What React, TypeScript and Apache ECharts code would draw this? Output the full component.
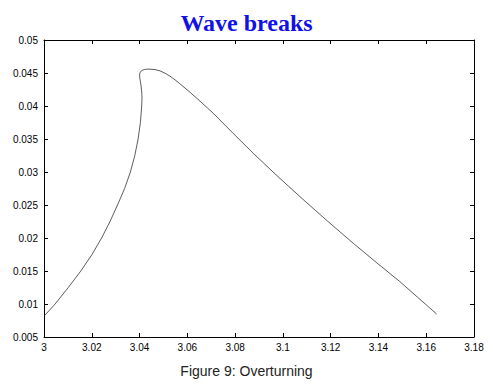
import React, { useEffect, useRef } from "react";
import * as echarts from "echarts";

const titleText = "Wave breaks";
const captionText = "Figure 9: Overturning";

const waveX = [
  3.00013, 3.00465, 3.01017, 3.0154, 3.02009, 3.02411, 3.02763, 3.03077,
  3.03374, 3.03617, 3.03801, 3.03939, 3.04035, 3.0409, 3.04102, 3.04094,
  3.04065, 3.04035, 3.0401, 3.04002, 3.04014, 3.04048, 3.04115, 3.04219,
  3.04395, 3.04646, 3.04856, 3.05065, 3.05274, 3.05484, 3.05693, 3.06112,
  3.0653, 3.07087, 3.07911, 3.08761, 3.09712, 3.10716, 3.11805, 3.12947,
  3.13939, 3.14902, 3.15655, 3.16438,
];
const waveY = [
  0.0082, 0.01, 0.0125, 0.015, 0.0175, 0.02, 0.0225, 0.025, 0.0275, 0.03,
  0.0325, 0.035, 0.0375, 0.04, 0.04117, 0.04197, 0.04303, 0.04371, 0.0442,
  0.0447, 0.045, 0.04523, 0.04541, 0.04555, 0.04559, 0.04552, 0.04532,
  0.04497, 0.04452, 0.04397, 0.04336, 0.04208, 0.04074, 0.03889, 0.03588,
  0.03283, 0.02958, 0.02626, 0.02276, 0.0192, 0.01621, 0.01338, 0.01097,
  0.00848,
];

const xMin = 3;
const xMax = 3.18;
const xStep = 0.02;
const yMin = 0.005;
const yMax = 0.05;
const yStep = 0.005;

export default function App() {
  const ref = useRef<HTMLDivElement>(null);
  useEffect(() => {
    if (!ref.current) return;
    const chart = echarts.init(ref.current, null, { renderer: "svg" });
    const data = waveX.map((x, i) => [x, waveY[i]]);
    const labelFont = {
      fontFamily: "Liberation Sans, Arial, sans-serif",
      fontSize: 10,
      color: "#000",
    };
    const fmt = (d: number) => (v: number) => String(parseFloat(v.toFixed(d)));
    const line = { show: true, lineStyle: { color: "#000", width: 1 } };
    const tick = { show: true, inside: true, length: 4, lineStyle: { color: "#000", width: 1 } };
    chart.setOption({
      animation: false,
      backgroundColor: "#fff",
      title: [
        {
          text: titleText,
          left: "center",
          top: 6,
          textStyle: {
            fontFamily: "Liberation Serif, Times New Roman, serif",
            fontWeight: "bold",
            fontSize: 24,
            color: "#1010e8",
          },
        },
        {
          text: captionText,
          left: "center",
          top: 359,
          textStyle: {
            fontFamily: "Liberation Sans, Arial, sans-serif",
            fontWeight: "normal",
            fontSize: 14,
            color: "#222",
          },
        },
      ],
      grid: { left: 44, right: 19, top: 40, bottom: 48 },
      xAxis: [
        {
          type: "value",
          min: xMin,
          max: xMax,
          interval: xStep,
          axisLine: line,
          axisTick: tick,
          splitLine: { show: false },
          axisLabel: { ...labelFont, margin: 5, formatter: fmt(2) },
        },
        {
          type: "value",
          position: "top",
          min: xMin,
          max: xMax,
          interval: xStep,
          axisLine: line,
          axisTick: tick,
          splitLine: { show: false },
          axisLabel: { show: false },
        },
      ],
      yAxis: [
        {
          type: "value",
          min: yMin,
          max: yMax,
          interval: yStep,
          axisLine: line,
          axisTick: tick,
          splitLine: { show: false },
          axisLabel: { ...labelFont, margin: 6, formatter: fmt(3) },
        },
        {
          type: "value",
          position: "right",
          min: yMin,
          max: yMax,
          interval: yStep,
          axisLine: line,
          axisTick: tick,
          splitLine: { show: false },
          axisLabel: { show: false },
        },
      ],
      series: [
        {
          type: "line",
          data,
          smooth: false,
          showSymbol: false,
          symbol: "none",
          lineStyle: { color: "#333", width: 0.8 },
          xAxisIndex: 0,
          yAxisIndex: 0,
        },
      ],
    });
    return () => chart.dispose();
  }, []);
  return (
    <div
      ref={ref}
      style={{ position: "fixed", left: 0, top: 0, width: 493, height: 385, background: "#fff" }}
    />
  );
}
